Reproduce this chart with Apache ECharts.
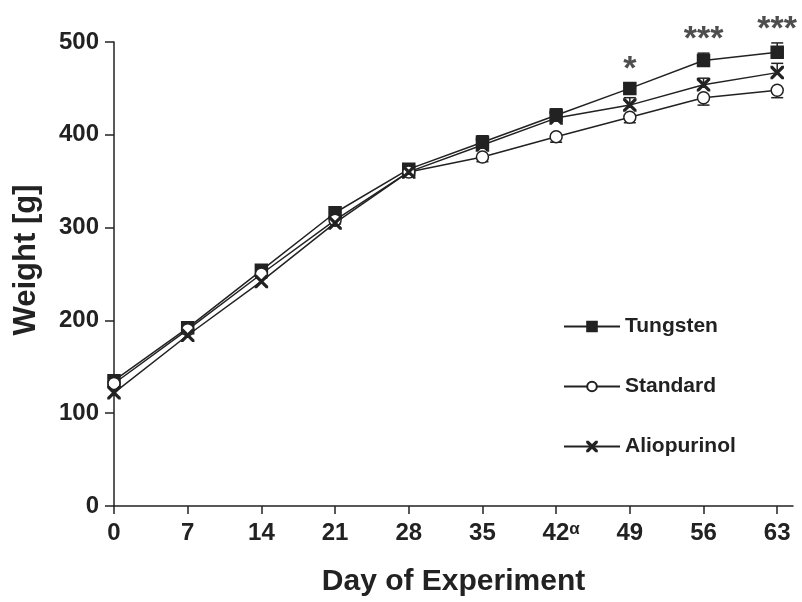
<!DOCTYPE html>
<html>
<head>
<meta charset="utf-8">
<title>Weight</title>
<script src="https://cdn.jsdelivr.net/npm/echarts@6/dist/echarts.min.js"></script>
<style>
  html, body { margin: 0; padding: 0; background: #fff; }
  #weightChart { width: 802px; height: 602px; }
</style>
</head>
<body>
<div id="weightChart"></div>
<script>
// 横轴：实验天数
const days = [0, 7, 14, 21, 28, 35, 42, 49, 56, 63];
// 各组体重均值 (g)
const tungsten = [135, 192, 254, 316, 363, 392, 421, 450, 480, 489];
const standard = [132, 190, 250, 308, 360, 376, 398, 419, 440, 448];
const allopurinol = [122, 184, 242, 305, 360, 389, 418, 432, 454, 467];
// 误差 (g)，Tungsten/Allopurinol 向上，Standard 向下
const tungstenErr = [5, 4, 4, 4, 5, 7, 7, 6, 8, 10];
const standardErr = [5, 4, 4, 4, 4, 5, 6, 6, 8, 8];
const allopurinolErr = [5, 4, 4, 4, 4, 6, 6, 8, 7, 10];
// 显著性标记
const significance = ["", "", "", "", "", "", "", "*", "***", "***"];
const yTicks = [0, 100, 200, 300, 400, 500];

const ink = "#222";
const font = "Liberation Sans, Arial, sans-serif";

(() => {
  configWeightChart();
})();

// 误差线
function errorBarItem(params, api) {
  const x = api.value(0);
  const p1 = api.coord([x, api.value(1)]);
  const p2 = api.coord([x, api.value(2)]);
  const half = 6;
  const style = { stroke: ink, lineWidth: 1.5 };
  return {
    type: "group",
    children: [
      { type: "line", shape: { x1: p1[0], y1: p1[1], x2: p2[0], y2: p2[1] }, style },
      { type: "line", shape: { x1: p2[0] - half, y1: p2[1], x2: p2[0] + half, y2: p2[1] }, style },
    ],
  };
}

function errorSeries(means, errs, dir) {
  return {
    type: "custom",
    renderItem: errorBarItem,
    z: 1,
    silent: true,
    data: days.map((d, i) => [d, means[i], means[i] + dir * errs[i]]),
  };
}

function lineSeries(name, means, symbol, fill) {
  return {
    name: name,
    type: "line",
    data: days.map((d, i) => [d, means[i]]),
    symbol: symbol,
    symbolSize: 12,
    showAllSymbol: true,
    z: 3,
    lineStyle: { color: ink, width: 1.5 },
    itemStyle: { color: fill, borderColor: ink, borderWidth: 1.5 },
  };
}

// 配置体重曲线图
function configWeightChart() {
  const chart = echarts.init(document.getElementById("weightChart"));
  const crossPath =
    "path://M0,0 L2,0 L10,8 L18,0 L20,0 L20,2 L12,10 L20,18 L20,20 L18,20 L10,12 L2,20 L0,20 L0,18 L8,10 L0,2 Z";

  const sigData = [];
  days.forEach((d, i) => {
    if (significance[i]) {
      sigData.push({ value: [d, tungsten[i] + tungstenErr[i]], mark: significance[i] });
    }
  });

  const option = {
    animation: false,
    backgroundColor: "#fff",
    textStyle: { fontFamily: font },
    grid: { left: 114, right: 9, top: 42, bottom: 95 },
    legend: {
      data: ["Tungsten", "Standard", "Aliopurinol"],
      orient: "vertical",
      left: 558,
      top: 311,
      itemWidth: 56,
      itemHeight: 12,
      itemGap: 39,
      textStyle: { fontSize: 21, fontWeight: "bold", color: ink, fontFamily: font },
    },
    xAxis: {
      type: "value",
      min: 0,
      max: 64.5,
      interval: 7,
      name: "Day of Experiment",
      nameLocation: "middle",
      nameGap: 61,
      nameTextStyle: { fontSize: 30, fontWeight: "bold", color: ink, fontFamily: font },
      splitLine: { show: false },
      axisLine: { lineStyle: { color: ink, width: 1.5 } },
      axisTick: { customValues: days, length: 8, lineStyle: { color: ink, width: 1.5 } },
      axisLabel: {
        customValues: days,
        margin: 15,
        fontSize: 24,
        fontWeight: "bold",
        color: ink,
        fontFamily: font,
        formatter: (v) => (v === 42 ? "{pad|}42{sup|α}" : String(v)),
        rich: {
          pad: { width: 10 },
          sup: { fontSize: 17, lineHeight: 17, verticalAlign: "top", color: ink, fontFamily: font },
        },
      },
    },
    yAxis: {
      type: "value",
      min: 0,
      max: 500,
      interval: 100,
      name: "Weight [g]",
      nameLocation: "middle",
      nameGap: 72,
      nameTextStyle: {
        fontSize: 31,
        fontWeight: "bold",
        color: ink,
        fontFamily: font,
        padding: [0, 0, 0, 28],
      },
      splitLine: { show: false },
      axisLine: { show: true, lineStyle: { color: ink, width: 1.5 } },
      axisTick: { show: true, length: 9, lineStyle: { color: ink, width: 1.5 } },
      axisLabel: {
        customValues: yTicks,
        margin: 15,
        fontSize: 24,
        fontWeight: "bold",
        color: ink,
        fontFamily: font,
      },
    },
    series: [
      errorSeries(tungsten, tungstenErr, 1),
      errorSeries(standard, standardErr, -1),
      errorSeries(allopurinol, allopurinolErr, 1),
      lineSeries("Tungsten", tungsten, "rect", ink),
      lineSeries("Standard", standard, "circle", "#fff"),
      lineSeries("Aliopurinol", allopurinol, crossPath, ink),
      {
        type: "scatter",
        silent: true,
        clip: false,
        symbolSize: 1,
        itemStyle: { color: "rgba(0,0,0,0)" },
        data: sigData,
        label: {
          show: true,
          position: "top",
          distance: -4,
          fontSize: 34,
          fontWeight: "bold",
          color: ink,
          fontFamily: font,
          formatter: (p) => p.data.mark,
        },
      },
    ],
  };
  chart.setOption(option);
}
</script>
</body>
</html>
